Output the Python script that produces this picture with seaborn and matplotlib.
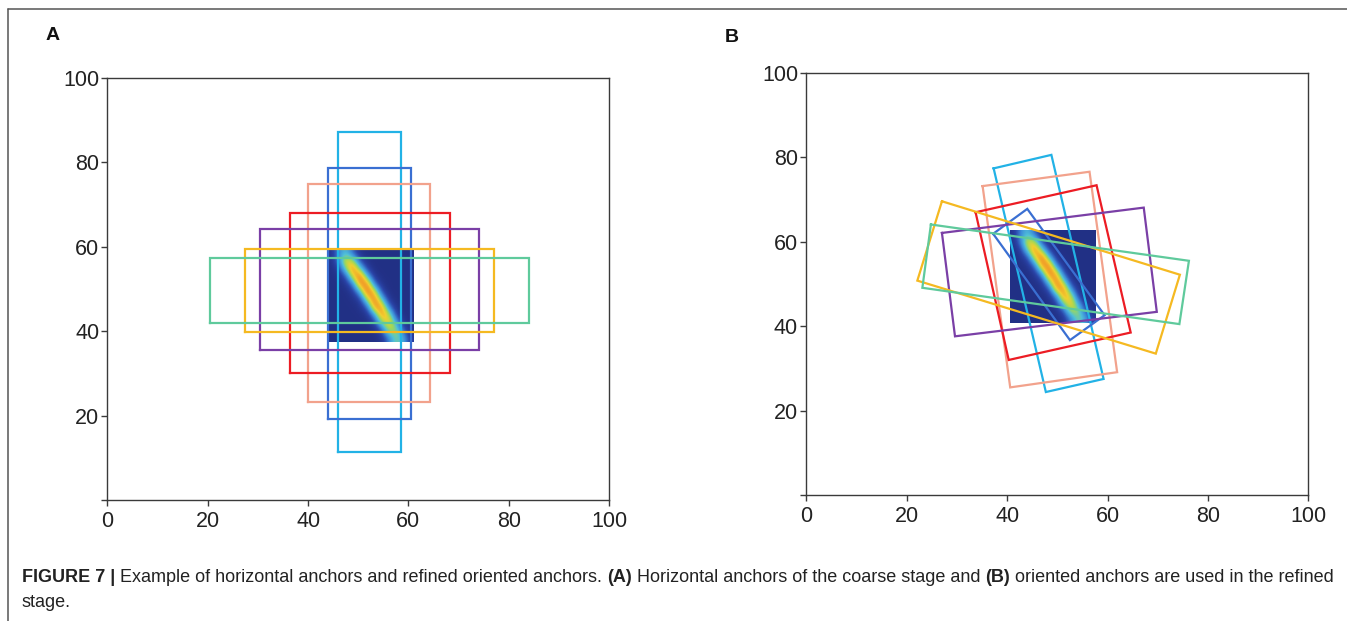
import numpy as np
import pandas as pd
import matplotlib
matplotlib.use("Agg")
import matplotlib.pyplot as plt
import seaborn as sns
from matplotlib.colors import LinearSegmentedColormap
from matplotlib.lines import Line2D

W, H = 1347, 621

ANCHORS = ["cyan", "blue", "salmon", "red", "purple", "yellow", "green"]
COLORS = {
    "cyan": "#22b2e6",
    "blue": "#3a6fd2",
    "salmon": "#f2a28c",
    "red": "#ec1c24",
    "purple": "#7a3fa6",
    "yellow": "#f5b921",
    "green": "#5fca9c",
}

# panel A: horizontal anchors of the coarse stage
A_X0 = [45.9, 43.9, 40.0, 36.3, 30.5, 27.5, 20.5]
A_X1 = [58.6, 60.5, 64.3, 68.2, 74.0, 77.0, 84.0]
A_Y0 = [11.3, 19.3, 23.3, 30.1, 35.5, 39.8, 42.0]
A_Y1 = [87.2, 78.6, 75.0, 67.9, 64.3, 59.5, 57.3]

# panel B: oriented anchors, four corners each (same order as ANCHORS)
B_X = [
    [37.3, 48.8, 59.2, 47.7],
    [37.2, 44.0, 59.4, 52.5],
    [35.1, 56.4, 61.9, 40.6],
    [33.7, 57.8, 64.6, 40.3],
    [27.0, 67.2, 69.8, 29.6],
    [27.0, 74.4, 69.6, 22.1],
    [24.8, 76.2, 74.3, 23.1],
]
B_Y = [
    [77.4, 80.6, 27.5, 24.4],
    [61.9, 67.8, 42.6, 36.7],
    [73.2, 76.6, 29.1, 25.5],
    [67.0, 73.4, 38.5, 32.0],
    [62.1, 68.1, 43.4, 37.6],
    [69.6, 52.2, 33.5, 50.8],
    [64.1, 55.5, 40.5, 49.1],
]

# heat map patch (x0, x1, y0, y1) and its intensity grid, top row first
HEAT_A = (43.9, 60.9, 37.4, 59.3)
HEAT_B = (40.6, 57.7, 40.8, 62.8)
HEAT = [
    [0.08, 0.30, 0.45, 0.20, 0.07, 0.05, 0.05, 0.05, 0.05, 0.05, 0.05, 0.05],
    [0.06, 0.28, 0.75, 0.60, 0.15, 0.06, 0.05, 0.05, 0.05, 0.05, 0.05, 0.05],
    [0.05, 0.12, 0.55, 0.92, 0.48, 0.12, 0.05, 0.05, 0.05, 0.05, 0.05, 0.05],
    [0.05, 0.07, 0.18, 0.72, 0.96, 0.40, 0.08, 0.05, 0.05, 0.05, 0.05, 0.05],
    [0.05, 0.05, 0.08, 0.28, 0.90, 0.88, 0.25, 0.07, 0.05, 0.05, 0.05, 0.05],
    [0.05, 0.05, 0.05, 0.10, 0.42, 0.98, 0.72, 0.16, 0.05, 0.05, 0.05, 0.05],
    [0.05, 0.05, 0.05, 0.06, 0.12, 0.62, 0.95, 0.48, 0.09, 0.05, 0.05, 0.05],
    [0.05, 0.05, 0.05, 0.05, 0.07, 0.20, 0.86, 0.86, 0.28, 0.07, 0.05, 0.05],
    [0.05, 0.05, 0.05, 0.05, 0.05, 0.08, 0.32, 0.88, 0.66, 0.14, 0.05, 0.05],
    [0.05, 0.05, 0.05, 0.05, 0.05, 0.05, 0.12, 0.52, 0.80, 0.40, 0.08, 0.05],
    [0.05, 0.05, 0.05, 0.05, 0.05, 0.05, 0.06, 0.17, 0.60, 0.60, 0.22, 0.06],
    [0.05, 0.05, 0.05, 0.05, 0.05, 0.05, 0.05, 0.08, 0.26, 0.55, 0.40, 0.10],
]

X_TICKS = [0, 20, 40, 60, 80, 100]
Y_TICKS = [0, 20, 40, 60, 80, 100]
Y_LABELS = ["", "20", "40", "60", "80", "100"]

CAPTION_1 = [
    ("FIGURE 7 |", "bold"),
    ("Example of horizontal anchors and refined oriented anchors.", "normal"),
    ("(A)", "bold"),
    ("Horizontal anchors of the coarse stage and", "normal"),
    ("(B)", "bold"),
    ("oriented anchors are used in the refined", "normal"),
]
CAPTION_2 = [("stage.", "normal")]

heat_cmap = LinearSegmentedColormap.from_list(
    "heat",
    [(0.0, "#1e2776"), (0.15, "#2a44a8"), (0.3, "#3c8ad8"), (0.45, "#50c0d8"),
     (0.58, "#a0d858"), (0.7, "#f0d030"), (0.82, "#f09a28"), (0.92, "#e85a20"),
     (1.0, "#c82018")],
)


def rect_frame():
    rows = []
    for name, x0, x1, y0, y1 in zip(ANCHORS, A_X0, A_X1, A_Y0, A_Y1):
        for x, y in [(x0, y0), (x1, y0), (x1, y1), (x0, y1), (x0, y0)]:
            rows.append((name, x, y))
    return pd.DataFrame(rows, columns=["anchor", "x", "y"])


def poly_frame():
    rows = []
    for name, xs, ys in zip(ANCHORS, B_X, B_Y):
        for x, y in zip(xs + xs[:1], ys + ys[:1]):
            rows.append((name, x, y))
    return pd.DataFrame(rows, columns=["anchor", "x", "y"])


def style_axes(ax):
    ax.set_xlim(0, 100)
    ax.set_ylim(0, 100)
    ax.set_xticks(X_TICKS)
    ax.set_yticks(Y_TICKS)
    ax.set_yticklabels(Y_LABELS)
    ax.set_xlabel("")
    ax.set_ylabel("")
    ax.tick_params(axis="both", direction="out", length=4, width=1.0,
                   color="#3a3a3a", labelsize=15.5, labelcolor="#222222")
    ax.tick_params(axis="x", pad=4)
    ax.tick_params(axis="y", pad=2)
    for sp in ax.spines.values():
        sp.set_color("#3a3a3a")
        sp.set_linewidth(1.0)


def draw_panel(ax, df, heat_ext):
    ax.imshow(np.array(HEAT), extent=heat_ext, origin="upper", cmap=heat_cmap,
              vmin=0, vmax=1, interpolation="bicubic", aspect="auto", zorder=1)
    sns.lineplot(data=df, x="x", y="y", hue="anchor", hue_order=ANCHORS,
                 units="anchor", estimator=None, sort=False, palette=COLORS,
                 legend=False, lw=1.6, solid_joinstyle="miter",
                 solid_capstyle="projecting", zorder=2, ax=ax)
    style_axes(ax)


def rich_line(fig, x_px, y_px, parts, size):
    renderer = fig.canvas.get_renderer()
    space = 0.278 * size * fig.dpi / 72
    x = x_px
    for text, weight in parts:
        t = fig.text(x / W, 1 - y_px / H, text, fontsize=size, fontweight=weight,
                     color="#222222", va="baseline", ha="left")
        bb = t.get_window_extent(renderer)
        x += bb.width + space


def main():
    sns.set_theme(style="ticks")
    plt.rcParams["font.family"] = ["Liberation Sans", "DejaVu Sans"]

    fig = plt.figure(figsize=(W / 100, H / 100), dpi=100)
    ax_a = fig.add_axes([107.5 / W, 1 - 500 / H, 501.5 / W, 422 / H])
    ax_b = fig.add_axes([806.4 / W, 1 - 495 / H, 502 / W, 422 / H])

    draw_panel(ax_a, rect_frame(), HEAT_A)
    draw_panel(ax_b, poly_frame(), HEAT_B)

    fig.text(53 / W, 1 - 36 / H, "A", fontsize=14, fontweight="bold",
             color="#111111", ha="center", va="center")
    fig.text(732 / W, 1 - 37 / H, "B", fontsize=14, fontweight="bold",
             color="#111111", ha="center", va="center")

    # page frame: top and left rule
    fig.add_artist(Line2D([8 / W, 1], [1 - 9.3 / H] * 2, transform=fig.transFigure,
                          color="#555555", lw=1.1))
    fig.add_artist(Line2D([8 / W] * 2, [0, 1 - 9.3 / H], transform=fig.transFigure,
                          color="#555555", lw=1.1))

    rich_line(fig, 22, 582, CAPTION_1, 12.95)
    rich_line(fig, 22, 607, CAPTION_2, 12.95)

    fig.savefig("out.png", dpi=100)
    plt.close(fig)


if __name__ == "__main__":
    main()
